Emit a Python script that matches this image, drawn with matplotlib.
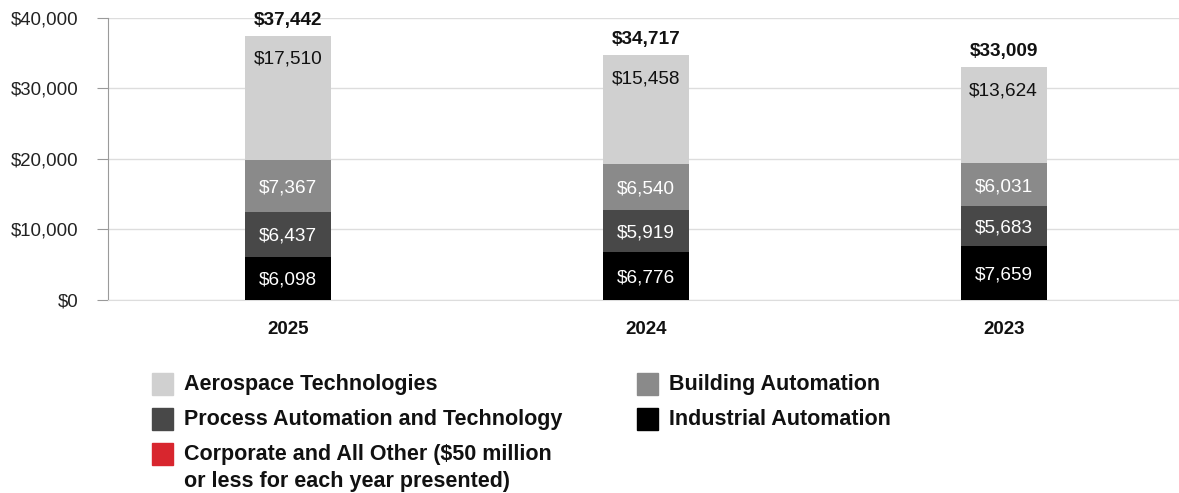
import matplotlib.pyplot as plt
from matplotlib.patches import Rectangle
import numpy as np

plt.rcParams['font.family'] = ['Liberation Sans', 'DejaVu Sans']

years = ['2025', '2024', '2023']
industrial = [6098, 6776, 7659]
process = [6437, 5919, 5683]
building = [7367, 6540, 6031]
aerospace = [17510, 15458, 13624]
corporate = [30, 24, 12]
totals = [37442, 34717, 33009]

# name, values, fill, label colour, label placement
segments = [
    ('Industrial Automation', industrial, '#000000', 'white', 'mid'),
    ('Process Automation and Technology', process, '#484848', 'white', 'mid'),
    ('Building Automation', building, '#8a8a8a', 'white', 'mid'),
    ('Aerospace Technologies', aerospace, '#d0d0d0', '#111111', 'top'),
    ('Corporate and All Other', corporate, '#d8262e', None, None),
]

fig = plt.figure(figsize=(11.79, 4.93), dpi=100)
ax = fig.add_axes([0.0916, 0.3915, 0.9084, 0.572])

x = np.arange(len(years))
bottom = np.zeros(len(years))
for name, vals, color, txt, where in segments:
    vals = np.array(vals, dtype=float)
    ax.bar(x, vals, 0.24, bottom=bottom, color=color, zorder=3)
    if txt is not None:
        for xi, b, v in zip(x, bottom, vals):
            y = b + v / 2 if where == 'mid' else b + v - 3000
            ax.text(xi, y, f'${v:,.0f}', ha='center', va='center_baseline',
                    color=txt, fontsize=13.7, zorder=4)
    bottom += vals

for xi, t in zip(x, totals):
    ax.text(xi, t + 2250, f'${t:,}', ha='center', va='center',
            fontsize=13.7, fontweight='bold', color='#111111', clip_on=False)

ax.set_xlim(-0.503, 2.49)
ax.set_ylim(0, 40000)
ax.set_yticks(range(0, 40001, 10000))
ax.set_yticklabels([f'${v:,}' for v in range(0, 40001, 10000)],
                   fontsize=13.4, color='#222222')
ax.set_xticks(x)
ax.set_xticklabels(years, fontsize=13.5, fontweight='bold', color='#111111')
ax.tick_params(axis='x', length=0, pad=15)
ax.tick_params(axis='y', length=8, color='#9a9a9a', pad=13)
ax.grid(axis='y', color='#dddddd', linewidth=1, zorder=0)
for s in ['top', 'right']:
    ax.spines[s].set_visible(False)
ax.spines['left'].set_color('#9a9a9a')
ax.spines['bottom'].set_color('#dddddd')

# legend drawn by hand in figure pixels
W, H = 1179, 493
legend_items = [
    ('Aerospace Technologies', '#d0d0d0', 152, 384),
    ('Building Automation', '#8a8a8a', 637, 384),
    ('Process Automation and Technology', '#484848', 152, 419),
    ('Industrial Automation', '#000000', 637, 419),
    ('Corporate and All Other ($50 million\nor less for each year presented)', '#d8262e', 152, 454),
]
for label, color, px, py in legend_items:
    fig.add_artist(Rectangle((px / W, 1 - (py + 11) / H), 21 / W, 22 / H,
                             transform=fig.transFigure, color=color))
    fig.text((px + 32) / W, 1 - (py - 10) / H, label, ha='left', va='top',
             fontsize=15.5, fontweight='bold', color='#111111', linespacing=1.4)

fig.savefig('out.png', dpi=100)
